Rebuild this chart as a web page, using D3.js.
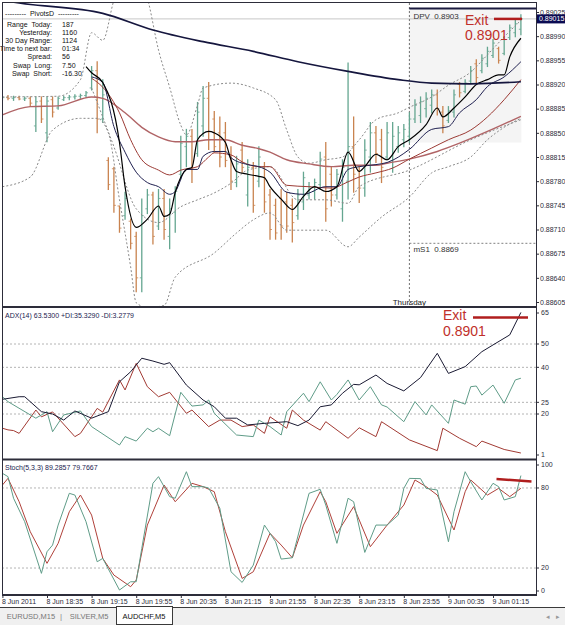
<!DOCTYPE html>
<html>
<head>
<meta charset="utf-8">
<script src="https://d3js.org/d3.v7.min.js"></script>
<style>
  body { margin: 0; background: #fff; }
  svg { display: block; font-family: 'Liberation Sans', Arial, sans-serif; }
</style>
</head>
<body>
<svg id="chart" width="565" height="625"></svg>
<script>
const timeLabels = ['8 Jun 2011', '8 Jun 18:35', '8 Jun 19:15', '8 Jun 19:55', '8 Jun 20:35', '8 Jun 21:15',
  '8 Jun 21:55', '8 Jun 22:35', '8 Jun 23:15', '8 Jun 23:55', '9 Jun 00:35', '9 Jun 01:15'];
const timeLabelBars = [0, 8, 16, 24, 32, 40, 48, 56, 64, 72, 80, 88];
const priceTicks = [0.89025, 0.88990, 0.88955, 0.88920, 0.88885, 0.88850, 0.88815, 0.88780, 0.88745, 0.88710, 0.88675, 0.88640, 0.88605];
const adxTicks = [65, 50, 40, 25, 20, 1];
const adxLevels = [50, 40, 25, 20];
const stochTicks = [100, 80, 20, 0];
const stochLevels = [80, 20];

// open, high, low, close
const bars = [
  [0.88899, 0.88903, 0.88897, 0.88901], [0.88901, 0.88904, 0.88898, 0.88900], [0.88900, 0.88903, 0.88897, 0.88901],
  [0.88901, 0.88903, 0.88898, 0.88899], [0.88899, 0.88902, 0.88897, 0.88900], [0.88900, 0.88902, 0.88888, 0.88893],
  [0.88860, 0.88902, 0.88852, 0.88895], [0.88896, 0.88902, 0.88865, 0.88870], [0.88850, 0.88902, 0.88837, 0.88896],
  [0.88898, 0.88902, 0.88873, 0.88880], [0.88886, 0.88902, 0.88884, 0.88900], [0.88898, 0.88903, 0.88897, 0.88901],
  [0.88901, 0.88904, 0.88898, 0.88902], [0.88902, 0.88905, 0.88899, 0.88903], [0.88903, 0.88906, 0.88900, 0.88904],
  [0.88904, 0.88910, 0.88902, 0.88908], [0.88915, 0.88946, 0.88912, 0.88940], [0.88940, 0.88953, 0.88850, 0.88870],
  [0.88870, 0.88927, 0.88865, 0.88905], [0.88810, 0.88814, 0.88768, 0.88775], [0.88798, 0.88800, 0.88735, 0.88745],
  [0.88744, 0.88744, 0.88706, 0.88712], [0.88730, 0.88764, 0.88725, 0.88755], [0.88722, 0.88725, 0.88682, 0.88690],
  [0.88700, 0.88706, 0.88620, 0.88640], [0.88640, 0.88754, 0.88620, 0.88730], [0.88740, 0.88768, 0.88733, 0.88760],
  [0.88760, 0.88764, 0.88689, 0.88700], [0.88715, 0.88768, 0.88710, 0.88755], [0.88755, 0.88768, 0.88696, 0.88710],
  [0.88700, 0.88754, 0.88682, 0.88740], [0.88735, 0.88772, 0.88706, 0.88765], [0.88790, 0.88845, 0.88783, 0.88835],
  [0.88830, 0.88855, 0.88801, 0.88845], [0.88845, 0.88855, 0.88778, 0.88800], [0.88820, 0.88894, 0.88816, 0.88880],
  [0.88860, 0.88917, 0.88845, 0.88900], [0.88900, 0.88923, 0.88826, 0.88840], [0.88870, 0.88881, 0.88822, 0.88830],
  [0.88850, 0.88873, 0.88801, 0.88815], [0.88850, 0.88865, 0.88801, 0.88810], [0.88815, 0.88830, 0.88768, 0.88780],
  [0.88778, 0.88816, 0.88772, 0.88805], [0.88825, 0.88836, 0.88793, 0.88800], [0.88760, 0.88811, 0.88744, 0.88800],
  [0.88800, 0.88807, 0.88735, 0.88745], [0.88780, 0.88830, 0.88772, 0.88815], [0.88800, 0.88807, 0.88735, 0.88750],
  [0.88760, 0.88768, 0.88696, 0.88710], [0.88745, 0.88754, 0.88696, 0.88705], [0.88755, 0.88768, 0.88696, 0.88715],
  [0.88750, 0.88764, 0.88706, 0.88715], [0.88745, 0.88754, 0.88692, 0.88720], [0.88730, 0.88768, 0.88725, 0.88760],
  [0.88750, 0.88793, 0.88739, 0.88785], [0.88760, 0.88778, 0.88754, 0.88772], [0.88765, 0.88783, 0.88754, 0.88778],
  [0.88775, 0.88822, 0.88768, 0.88812], [0.88815, 0.88836, 0.88722, 0.88740], [0.88790, 0.88801, 0.88744, 0.88760],
  [0.88760, 0.88797, 0.88754, 0.88790], [0.88740, 0.88811, 0.88722, 0.88800], [0.88780, 0.88951, 0.88754, 0.88830],
  [0.88830, 0.88873, 0.88764, 0.88790], [0.88795, 0.88801, 0.88749, 0.88770], [0.88770, 0.88840, 0.88758, 0.88825],
  [0.88815, 0.88865, 0.88793, 0.88850], [0.88850, 0.88859, 0.88807, 0.88820], [0.88840, 0.88855, 0.88778, 0.88800],
  [0.88815, 0.88865, 0.88811, 0.88850], [0.88810, 0.88865, 0.88793, 0.88845], [0.88830, 0.88859, 0.88822, 0.88850],
  [0.88840, 0.88862, 0.88830, 0.88855], [0.88845, 0.88879, 0.88836, 0.88870], [0.88870, 0.88898, 0.88865, 0.88890],
  [0.88875, 0.88902, 0.88865, 0.88895], [0.88885, 0.88908, 0.88873, 0.88900], [0.88890, 0.88912, 0.88879, 0.88905],
  [0.88905, 0.88912, 0.88876, 0.88885], [0.88880, 0.88888, 0.88850, 0.88860], [0.88868, 0.88888, 0.88865, 0.88882],
  [0.88880, 0.88912, 0.88873, 0.88905], [0.88920, 0.88923, 0.88902, 0.88908], [0.88910, 0.88927, 0.88908, 0.88922],
  [0.88925, 0.88946, 0.88923, 0.88940], [0.88950, 0.88956, 0.88923, 0.88930], [0.88940, 0.88963, 0.88937, 0.88958],
  [0.88950, 0.88974, 0.88946, 0.88968], [0.88962, 0.88985, 0.88959, 0.88980], [0.88972, 0.88974, 0.88951, 0.88955],
  [0.88965, 0.88989, 0.88963, 0.88985], [0.88988, 0.89006, 0.88985, 0.89002], [0.88995, 0.89013, 0.88989, 0.89008],
  [0.89000, 0.89021, 0.88992, 0.89015],
];

// moving averages and bands: [bar, price]
const ma200 = [[0, 0.89042], [3, 0.89038], [18, 0.89023], [27, 0.88999], [36, 0.88982], [45, 0.88968], [53, 0.88953],
  [62, 0.88939], [71, 0.88927], [77, 0.88922], [84, 0.88921], [93, 0.88924]];
const ma50 = [[0, 0.88876], [5, 0.88888], [10, 0.88889], [16, 0.88902], [18, 0.88900], [22, 0.88879], [25, 0.88858],
  [28, 0.88844], [31, 0.88837], [34, 0.88837], [37, 0.88840], [40, 0.88840], [43, 0.88832], [46, 0.88827], [48, 0.88822],
  [51, 0.88811], [55, 0.88805], [59, 0.88801], [63, 0.88803], [67, 0.88803], [69, 0.88806], [73, 0.88812], [78, 0.88823],
  [82, 0.88835], [87, 0.88852], [93, 0.88874]];
const ma20 = [[16, 0.88929], [18, 0.88916], [21, 0.88879], [23, 0.88840], [25, 0.88811], [28, 0.88796], [30, 0.88789],
  [32, 0.88796], [35, 0.88801], [37, 0.88815], [38, 0.88821], [41, 0.88818], [43, 0.88808], [46, 0.88801], [48, 0.88801],
  [51, 0.88774], [55, 0.88772], [59, 0.88770], [62, 0.88779], [64, 0.88786], [67, 0.88792], [70, 0.88799], [73, 0.88812],
  [77, 0.88828], [80, 0.88840], [84, 0.88854], [87, 0.88873], [90, 0.88898], [93, 0.88927]];
const ma10 = [[16, 0.88931], [18, 0.88923], [20, 0.88859], [22, 0.88822], [24, 0.88793], [26, 0.88778], [28, 0.88772],
  [30, 0.88761], [31, 0.88765], [33, 0.88797], [35, 0.88797], [36, 0.88816], [38, 0.88823], [40, 0.88823], [41, 0.88814],
  [44, 0.88804], [46, 0.88801], [48, 0.88793], [51, 0.88764], [54, 0.88761], [58, 0.88772], [60, 0.88772], [62, 0.88797],
  [64, 0.88801], [67, 0.88804], [69, 0.88807], [73, 0.88826], [77, 0.88855], [80, 0.88859], [82, 0.88879], [85, 0.88898],
  [87, 0.88917], [90, 0.88931], [93, 0.88953]];
const ma5 = [[15, 0.88946], [16, 0.88937], [18, 0.88923], [21, 0.88836], [22, 0.88772], [24, 0.88713], [26, 0.88725],
  [28, 0.88744], [29, 0.88729], [30, 0.88732], [31, 0.88764], [33, 0.88797], [34, 0.88800], [35, 0.88840], [37, 0.88852],
  [38, 0.88850], [40, 0.88836], [41, 0.88811], [42, 0.88794], [44, 0.88790], [46, 0.88787], [47, 0.88785], [48, 0.88772],
  [50, 0.88754], [52, 0.88739], [54, 0.88758], [56, 0.88772], [58, 0.88765], [60, 0.88772], [62, 0.88822], [64, 0.88794],
  [65, 0.88801], [67, 0.88819], [69, 0.88811], [71, 0.88830], [73, 0.88840], [76, 0.88862], [78, 0.88886], [79, 0.88873],
  [81, 0.88886], [83, 0.88902], [85, 0.88920], [87, 0.88927], [89, 0.88934], [90, 0.88934], [91, 0.88960], [93, 0.88987]];
const bandUpper = [[0, 0.88902], [10, 0.88903], [14, 0.88927], [16, 0.88995], [18, 0.88984], [20, 0.89042], [22, 0.89080],
  [24, 0.89080], [26, 0.89045], [28, 0.88970], [30, 0.88916], [32, 0.88861], [33, 0.88847], [35, 0.88890], [36, 0.88915],
  [41, 0.88922], [45, 0.88915], [49, 0.88898], [51, 0.88854], [53, 0.88815], [55, 0.88806], [58, 0.88811], [61, 0.88815],
  [64, 0.88840], [67, 0.88869], [71, 0.88879], [73, 0.88887], [77, 0.88902], [80, 0.88919], [84, 0.88938], [87, 0.88963],
  [90, 0.88989], [93, 0.89013]];
const bandLower = [[0, 0.88772], [5, 0.88786], [9, 0.88854], [14, 0.88871], [17, 0.88871], [19, 0.88850], [21, 0.88753],
  [23, 0.88656], [24, 0.88604], [26, 0.88597], [29, 0.88600], [31, 0.88641], [38, 0.88676], [42, 0.88705], [45, 0.88724],
  [48, 0.88734], [51, 0.88709], [54, 0.88709], [58, 0.88709], [62, 0.88685], [64, 0.88699], [68, 0.88728], [73, 0.88757],
  [77, 0.88792], [80, 0.88801], [84, 0.88815], [87, 0.88840], [90, 0.88858], [93, 0.88871]];
const bandInner = [[16, 0.88915], [20, 0.88830], [24, 0.88740], [28, 0.88720], [32, 0.88743], [35, 0.88753], [38, 0.88763],
  [41, 0.88777], [44, 0.88796], [48, 0.88801], [53, 0.88753], [58, 0.88753], [62, 0.88748], [64, 0.88772], [73, 0.88796],
  [84, 0.88840], [93, 0.88869]];

const pivotDPV = 0.8903;
const pivotMS1 = 0.8869;
const bidPrice = 0.89015;
const todayStartBar = 73;
const todayBoxLow = 0.88836;

// ADX(14): [bar, value]
const adxMain = [[0, 26.3], [3, 27.4], [4, 27.4], [7, 21], [9, 20], [11, 17.4], [13, 21.3], [16, 18.2], [19, 21], [21, 33.8],
  [23, 38.1], [25, 43.9], [27, 42.7], [29, 41.3], [30, 42], [33, 32.4], [36, 26], [38, 23.1], [40, 18.2], [42, 18.2],
  [44, 15.3], [47, 16], [51, 16.7], [53, 15], [55, 17.4], [57, 23.1], [59, 23.9], [61, 28.9], [63, 32.7], [64, 32.5],
  [67, 36.7], [69, 33.1], [72, 29.9], [75, 35.6], [78, 46], [80, 37.4], [83, 40.3], [86, 46.7], [88, 49.6], [91, 53.9], [93, 63.53]];
const adxPlus = [[0, 27.4], [1, 25.3], [6, 18.2], [8, 21], [9, 12.4], [11, 19.6], [14, 21.3], [16, 14.6], [21, 6.7], [22, 10.3],
  [24, 8.4], [26, 13.9], [27, 12.4], [28, 13.9], [30, 10.7], [32, 29.3], [34, 23.4], [36, 23.9], [37, 26], [38, 20.3],
  [42, 11], [45, 10.3], [46, 17.4], [48, 14.6], [50, 11], [51, 21], [54, 28.9], [55, 25.3], [57, 33.8], [59, 26], [60, 28.4],
  [62, 34.6], [64, 26], [66, 31.7], [68, 23.9], [69, 23], [72, 16.7], [74, 25.3], [76, 19.6], [77, 23.9], [80, 16], [81, 26],
  [83, 24.2], [84, 31.7], [85, 32], [86, 28.1], [88, 32.4], [90, 24.6], [92, 34.6], [93, 35.33]];
const adxMinus = [[0, 13.9], [1, 13.2], [2, 12.9], [3, 11.7], [6, 21.7], [7, 18.8], [9, 20.9], [13, 10.3], [14, 11.7],
  [17, 22.4], [18, 20.8], [21, 34.6], [22, 30.3], [24, 41.7], [26, 31.7], [28, 27.4], [30, 29.3], [33, 20.3], [34, 21.7],
  [37, 14.6], [39, 17.4], [41, 17.4], [43, 14.6], [45, 15.3], [47, 11.7], [48, 18.8], [51, 13.9], [52, 21.7], [54, 17.4],
  [57, 13.1], [58, 16.7], [62, 9.6], [64, 14.1], [67, 10.3], [68, 16.7], [73, 8.9], [78, 4.3], [79, 13.9], [82, 9.6],
  [85, 6], [86, 8.4], [90, 4.8], [93, 3.28]];

// Stoch(5,3,3): [bar, value]
const stochMain = [[0, 91], [1, 88.5], [2, 72.3], [4, 54.7], [7, 16], [8, 32.2], [9, 37.2], [10, 52.2], [12, 76], [13, 74.7],
  [15, 54.7], [17, 24.7], [18, 27.2], [21, 3.5], [23, 9.7], [24, 9.7], [25, 34.7], [27, 83.5], [28, 88.5], [30, 73.5],
  [31, 72.3], [33, 92.2], [34, 81], [36, 81], [37, 80], [39, 64.8], [41, 17.2], [43, 9.2], [45, 22.2], [47, 52.2], [49, 39.7],
  [50, 26.7], [52, 27.7], [55, 76], [57, 79], [58, 67.2], [60, 38.5], [62, 72.3], [63, 69.7], [65, 31.7], [67, 52.2],
  [69, 52.2], [71, 59.7], [72, 79.7], [73, 87.2], [75, 87], [76, 79.7], [78, 78.5], [80, 39.7], [81, 62.2], [83, 92.2],
  [84, 84.7], [86, 71], [88, 83.5], [89, 81], [90, 71], [92, 73.5], [93, 89.29]];
const stochSignal = [[0, 82.2], [1, 87.2], [3, 69.7], [5, 47.2], [8, 23.5], [10, 38.5], [12, 62.2], [14, 74.7], [16, 59.7],
  [18, 27.2], [20, 14.7], [23, 6], [24, 11], [26, 52.2], [29, 82.2], [31, 69.7], [34, 83.5], [36, 81], [38, 77.2], [40, 47.2],
  [43, 12.2], [45, 17.2], [48, 46], [50, 37.2], [52, 27.7], [54, 52.2], [57, 77.2], [58, 69.7], [60, 46], [63, 66], [66, 36],
  [69, 52.2], [72, 67.2], [74, 86], [76, 81], [78, 74.7], [81, 48.5], [83, 77.2], [84, 86], [87, 74.7], [89, 79.7],
  [91, 73.5], [93, 79.77]];

const pivotInfo = [['Range  Today:', '187'], ['Yesterday:', '1160'], ['30 Day Range:', '1124'], ['Time to next bar:', '01:34'],
  ['Spread:', '56'], ['Swap  Long:', '7.50'], ['Swap  Short:', '-16.30']];
const tabs = ['EURUSD,M15', 'SILVER,M5', 'AUDCHF,M5'];

// ---- layout ----
const svg = d3.select('#chart');
const axisX = 536;
const main = {top: 3, bottom: 306};
const adxP = {top: 309, bottom: 459};
const stochP = {top: 461, bottom: 595};
const green = '#64a690';
const orange = '#c9834f';
const axisColor = '#2d2d3a';

const x = d3.scaleLinear().domain([0, 93]).range([2.4, 520.9]);
const yMain = d3.scaleLinear().domain([0.88605, 0.89025]).range([302, 12]);
const yAdx = d3.scaleLinear().domain([20, 50]).range([414, 344]);
const yStoch = d3.scaleLinear().domain([0, 100]).range([594.7, 461.3]);

const defs = svg.append('defs');
[['clipMain', main], ['clipAdx', adxP], ['clipStoch', stochP]].forEach(([id, p])=>{
  defs.append('clipPath').attr('id', id).append('rect')
      .attr('x', 2).attr('y', p.top).attr('width', axisX - 2).attr('height', p.bottom - p.top);
});

const line = (g, pts, y, color, width, dash, curve)=>{
  g.append('path').datum(pts)
      .attr('d', d3.line().x((d)=>x(d[0])).y((d)=>y(d[1])).curve(curve || d3.curveLinear))
      .style('fill', 'none').style('stroke', color).style('stroke-width', width)
      .style('stroke-dasharray', dash || null).style('stroke-linejoin', 'round');
};

// ---- main price panel ----
const gm = svg.append('g').attr('clip-path', 'url(#clipMain)');

gm.append('rect').attr('x', x(todayStartBar) - 0.5).attr('y', yMain(pivotDPV))
    .attr('width', x(93) - x(todayStartBar) + 1).attr('height', yMain(todayBoxLow) - yMain(pivotDPV))
    .style('fill', '#f4f4f4');

gm.append('line').attr('x1', 2).attr('x2', axisX).attr('y1', yMain(bidPrice)).attr('y2', yMain(bidPrice))
    .style('stroke', '#c8c8c8').style('stroke-width', 1);

gm.append('line').attr('x1', x(todayStartBar)).attr('x2', x(todayStartBar)).attr('y1', main.top).attr('y2', main.bottom)
    .style('stroke', '#707070').style('stroke-dasharray', '2,2');
gm.append('line').attr('x1', x(todayStartBar)).attr('x2', axisX).attr('y1', yMain(pivotMS1)).attr('y2', yMain(pivotMS1))
    .style('stroke', '#808080').style('stroke-dasharray', '2,2');
gm.append('line').attr('x1', x(todayStartBar)).attr('x2', axisX).attr('y1', yMain(pivotDPV)).attr('y2', yMain(pivotDPV))
    .style('stroke', '#1b1b40').style('stroke-width', 2);

const bar = gm.append('g').selectAll('g').data(bars).enter().append('g')
    .style('stroke', (d)=>(d[3] >= d[0] ? green : orange)).style('stroke-width', 1.3);
bar.append('line').attr('x1', (d, i)=>x(i)).attr('x2', (d, i)=>x(i))
    .attr('y1', (d)=>yMain(d[1]) - 0.5).attr('y2', (d)=>yMain(d[2]) + 0.5);
bar.append('line').attr('x1', (d, i)=>x(i) - 2).attr('x2', (d, i)=>x(i))
    .attr('y1', (d)=>yMain(d[0])).attr('y2', (d)=>yMain(d[0])).style('stroke-width', 0.8);
bar.append('line').attr('x1', (d, i)=>x(i)).attr('x2', (d, i)=>x(i) + 2)
    .attr('y1', (d)=>yMain(d[3])).attr('y2', (d)=>yMain(d[3])).style('stroke-width', 0.8);

line(gm, bandUpper, yMain, '#8a8a8a', 1, '2,2', d3.curveMonotoneX);
line(gm, bandLower, yMain, '#8a8a8a', 1, '2,2', d3.curveMonotoneX);
line(gm, bandInner, yMain, '#8a8a8a', 1, '2,2', d3.curveMonotoneX);
line(gm, ma50, yMain, '#b06466', 1.4, null, d3.curveMonotoneX);
line(gm, ma20, yMain, '#9c3b35', 1, null, d3.curveMonotoneX);
line(gm, ma10, yMain, '#1f2050', 1, null, d3.curveMonotoneX);
line(gm, ma5, yMain, '#000', 1.2, null, d3.curveMonotoneX);
line(gm, ma200, yMain, '#15163e', 1.7, null, d3.curveMonotoneX);

gm.append('text').attr('x', x(todayStartBar) + 4).attr('y', yMain(pivotDPV) + 10)
    .style('font-size', '8px').style('fill', '#333').attr('xml:space', 'preserve').text('DPV  0.8903');
gm.append('text').attr('x', x(todayStartBar) + 4).attr('y', yMain(pivotMS1) + 9)
    .style('font-size', '8px').style('fill', '#333').attr('xml:space', 'preserve').text('mS1  0.8869');
gm.append('text').attr('x', x(todayStartBar)).attr('y', main.bottom - 1).attr('text-anchor', 'middle')
    .style('font-size', '8px').style('fill', '#222').text('Thursday');

// pivot info block
const info = svg.append('g').style('font-size', '7px').style('fill', '#111');
info.append('text').attr('x', 42).attr('y', 16).attr('text-anchor', 'middle').attr('xml:space', 'preserve')
    .text('---------  PivotsD  ---------');
pivotInfo.forEach((r, i)=>{
  info.append('text').attr('x', 52).attr('y', 26.5 + i * 8.2).attr('text-anchor', 'end').attr('xml:space', 'preserve').text(r[0]);
  info.append('text').attr('x', 62).attr('y', 26.5 + i * 8.2).text(r[1]);
});

// exit notes
const exitColor = '#c0302a';
const note = (g, tx, ty, lx1, lx2, ly)=>{
  g.append('text').attr('x', tx).attr('y', ty).style('font-size', '14px').style('fill', exitColor).text('Exit');
  g.append('text').attr('x', tx).attr('y', ty + 15.8).style('font-size', '14px').style('fill', exitColor).text('0.8901');
  g.append('line').attr('x1', lx1).attr('x2', lx2).attr('y1', ly).attr('y2', ly)
      .style('stroke', '#b01e1e').style('stroke-width', 2.5);
};
note(svg, 465, 24.5, 494, 522, yMain(0.89015));

// ---- ADX panel ----
const ga = svg.append('g').attr('clip-path', 'url(#clipAdx)');
adxLevels.forEach((v)=>{
  ga.append('line').attr('x1', 2).attr('x2', axisX).attr('y1', yAdx(v)).attr('y2', yAdx(v))
      .style('stroke', '#b4b4b4').style('stroke-dasharray', '2,2');
});
line(ga, adxMinus, yAdx, '#a23a33', 1);
line(ga, adxPlus, yAdx, '#5f9c88', 1);
line(ga, adxMain, yAdx, '#1a1a33', 1);
svg.append('text').attr('x', 5).attr('y', 318).style('font-size', '7px').style('fill', '#1b1b50')
    .text('ADX(14) 63.5300 +DI:35.3290 -DI:3.2779');
note(svg, 443, 320, 473, 528, 317.5);

// ---- Stochastic panel ----
const gs = svg.append('g').attr('clip-path', 'url(#clipStoch)');
stochLevels.forEach((v)=>{
  gs.append('line').attr('x1', 2).attr('x2', axisX).attr('y1', yStoch(v)).attr('y2', yStoch(v))
      .style('stroke', '#b4b4b4').style('stroke-dasharray', '2,2');
});
line(gs, stochSignal, yStoch, '#b0413a', 1);
line(gs, stochMain, yStoch, '#5f9c88', 1);
svg.append('text').attr('x', 5).attr('y', 470).style('font-size', '7px').style('fill', '#1b1b50')
    .text('Stoch(5,3,3) 89.2857 79.7667');
svg.append('line').attr('x1', 496.5).attr('x2', 531.5).attr('y1', 479).attr('y2', 481.5)
    .style('stroke', '#b01e1e').style('stroke-width', 2.5);

// ---- frames ----
const frame = svg.append('g').style('stroke', axisColor).style('fill', 'none');
frame.append('line').attr('x1', 2).attr('x2', axisX).attr('y1', 2.5).attr('y2', 2.5).style('stroke-width', 1);
frame.append('line').attr('x1', 2.5).attr('x2', 2.5).attr('y1', 2).attr('y2', stochP.bottom);
frame.append('line').attr('x1', axisX + 0.5).attr('x2', axisX + 0.5).attr('y1', 2).attr('y2', stochP.bottom + 1);
[main.bottom + 1, adxP.bottom + 0.5, stochP.bottom].forEach((yy)=>{
  frame.append('line').attr('x1', 2).attr('x2', axisX + 1).attr('y1', yy).attr('y2', yy).style('stroke-width', 2);
});

// ---- axes ----
const styleAxis = (g)=>{
  g.select('.domain').remove();
  g.selectAll('line').style('stroke', axisColor);
  g.selectAll('text').style('font-size', '7px').style('fill', axisColor)
      .style('font-family', '\'Liberation Sans\', Arial, sans-serif');
};
svg.append('g').attr('transform', `translate(${axisX},0)`)
    .call(d3.axisRight(yMain).tickValues(priceTicks).tickFormat(d3.format('.5f')).tickSize(3).tickPadding(1))
    .call(styleAxis);

const clampAxis = (scale, ticks, p)=>{
  const g = svg.append('g').attr('transform', `translate(${axisX},0)`)
      .call(d3.axisRight(scale).tickValues(ticks).tickSize(3).tickPadding(2))
      .call(styleAxis);
  g.selectAll('.tick').attr('transform', (d)=>`translate(0,${Math.max(p.top + 4, Math.min(p.bottom - 4, scale(d)))})`);
};
clampAxis(yAdx, adxTicks, adxP);
clampAxis(yStoch, stochTicks, stochP);

svg.append('rect').attr('x', axisX + 1).attr('y', yMain(bidPrice) - 4.5).attr('width', 28).attr('height', 9).style('fill', '#0b0b52');
svg.append('text').attr('x', axisX + 3).attr('y', yMain(bidPrice) + 2.5).style('font-size', '7px').style('fill', '#fff')
    .text(d3.format('.5f')(bidPrice));

const xa = svg.append('g').attr('transform', `translate(0,${stochP.bottom})`)
    .call(d3.axisBottom(x).tickValues(timeLabelBars).tickFormat((d, i)=>timeLabels[i]).tickSize(3).tickPadding(1))
    .call(styleAxis);
xa.selectAll('text').attr('text-anchor', 'start').attr('dx', -1);

// ---- tab bar ----
const tb = svg.append('g');
tb.append('rect').attr('x', 0).attr('y', 607).attr('width', 565).attr('height', 18).style('fill', '#f0f0f0');
tb.append('line').attr('x1', 0).attr('x2', 565).attr('y1', 607.5).attr('y2', 607.5).style('stroke', '#3a3a3a');
tb.append('rect').attr('x', 116.5).attr('y', 606.5).attr('width', 56).attr('height', 18).style('fill', '#fff')
    .style('stroke', '#3a3a3a');
tb.append('text').attr('x', 31).attr('y', 619).attr('text-anchor', 'middle').style('font-size', '7.5px').style('fill', '#777').text(tabs[0]);
tb.append('text').attr('x', 61).attr('y', 619).attr('text-anchor', 'middle').style('font-size', '8px').style('fill', '#888').text('|');
tb.append('text').attr('x', 89).attr('y', 619).attr('text-anchor', 'middle').style('font-size', '7.5px').style('fill', '#777').text(tabs[1]);
tb.append('text').attr('x', 144).attr('y', 619).attr('text-anchor', 'middle').style('font-size', '7.5px').style('fill', '#111').text(tabs[2]);
tb.append('text').attr('x', 546).attr('y', 619).style('font-size', '7px').style('fill', '#999').text('◂');
tb.append('text').attr('x', 556).attr('y', 619).style('font-size', '7px').style('fill', '#999').text('▸');
</script>
</body>
</html>
